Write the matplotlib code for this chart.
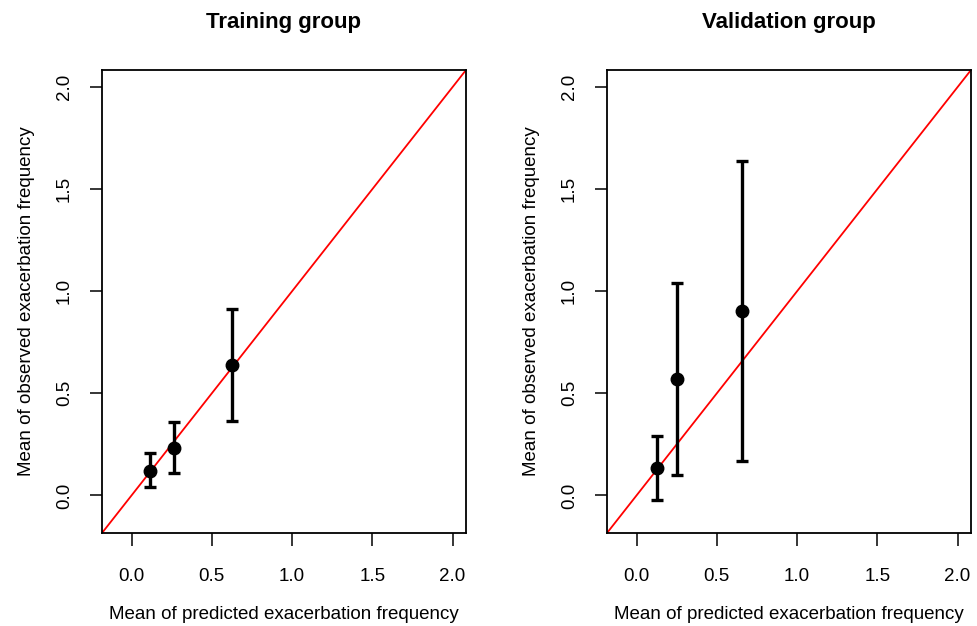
import numpy as np
import matplotlib
matplotlib.use("Agg")
import matplotlib.pyplot as plt

plt.rcParams['font.family'] = ['Liberation Sans', 'DejaVu Sans']

# values
train_pred = [0.114, 0.264, 0.627]
train_obs = [0.122, 0.232, 0.640]
train_lo = [0.041, 0.109, 0.367]
train_hi = [0.209, 0.359, 0.912]

valid_pred = [0.125, 0.253, 0.655]
valid_obs = [0.136, 0.569, 0.904]
valid_lo = [-0.021, 0.101, 0.171]
valid_hi = [0.290, 1.041, 1.640]

titles = ["Training group", "Validation group"]
ticks = [0.0, 0.5, 1.0, 1.5, 2.0]
tick_labels = ["0.0", "0.5", "1.0", "1.5", "2.0"]

W, H = 978, 626
fig = plt.figure(figsize=(W / 100, H / 100), dpi=100)

lo_lim, hi_lim = -0.1 - 0.084, 2.0 + 0.084


def panel(left_px, title, pred, obs, lo, hi):
    ax = fig.add_axes([left_px / W, (H - 533) / H, 364 / W, 463 / H])
    ax.set_xlim(lo_lim, hi_lim)
    ax.set_ylim(lo_lim, hi_lim)
    ax.axline((0, 0), slope=1, color="red", lw=1.3, zorder=1)
    pred = np.array(pred)
    obs = np.array(obs)
    yerr = np.vstack([obs - np.array(lo), np.array(hi) - obs])
    ax.errorbar(pred, obs, yerr=yerr, fmt="o", color="black", ms=9,
                elinewidth=2.4, capsize=4.5, capthick=2.4, zorder=3)
    ax.set_xticks(ticks)
    ax.set_xticklabels(tick_labels)
    ax.set_yticks(ticks)
    ax.set_yticklabels(tick_labels, rotation=90, va="center")
    ax.tick_params(axis="x", length=9, width=1.1, labelsize=13.5, pad=16)
    ax.tick_params(axis="y", length=9, width=1.1, labelsize=13.5, pad=12)
    for s in ax.spines.values():
        s.set_linewidth(1.3)
    ax.set_title(title, fontsize=16, fontweight="bold", pad=30)
    ax.set_xlabel("Mean of predicted exacerbation frequency", fontsize=13.5, labelpad=15)
    ax.set_ylabel("Mean of observed exacerbation frequency", fontsize=13.5, labelpad=15)
    return ax


panel(102, titles[0], train_pred, train_obs, train_lo, train_hi)
panel(607, titles[1], valid_pred, valid_obs, valid_lo, valid_hi)

fig.savefig("out.png", dpi=100)
